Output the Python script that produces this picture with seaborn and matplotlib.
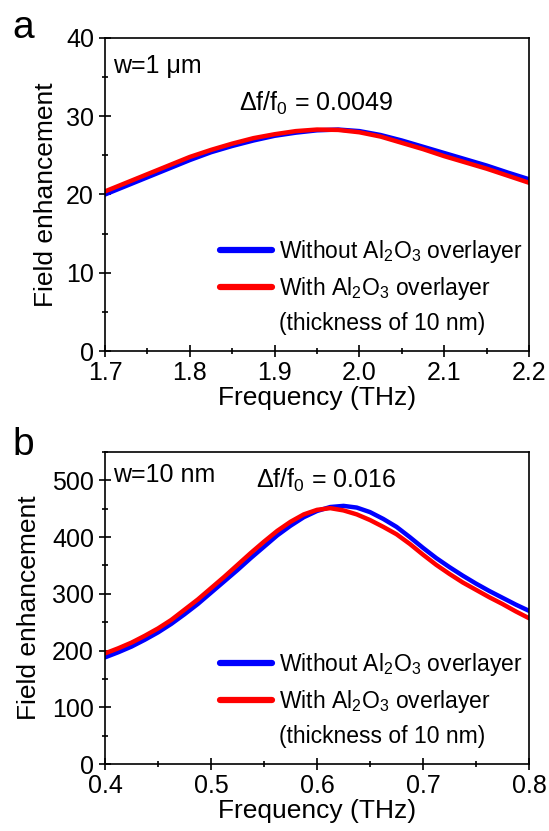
import pandas as pd
import seaborn as sns
import matplotlib.pyplot as plt
from matplotlib.lines import Line2D
from matplotlib.ticker import MultipleLocator

# 面板 a : w = 1 um
freq_a = [1.700, 1.725, 1.750, 1.775, 1.800, 1.825, 1.850, 1.875, 1.900, 1.925, 1.950,
          1.975, 2.000, 2.025, 2.050, 2.075, 2.100, 2.125, 2.150, 2.175, 2.200]
without_a = [20.0, 21.1, 22.2, 23.3, 24.4, 25.4, 26.2, 26.9, 27.5, 27.9, 28.2,
             28.3, 28.1, 27.6, 26.9, 26.1, 25.3, 24.5, 23.7, 22.8, 21.95]
with_a = [20.4, 21.5, 22.6, 23.7, 24.8, 25.7, 26.5, 27.2, 27.7, 28.1, 28.3,
          28.25, 27.95, 27.4, 26.6, 25.8, 24.9, 24.1, 23.3, 22.4, 21.5]

# 面板 b : w = 10 nm
freq_b = [0.4000, 0.4125, 0.4250, 0.4375, 0.4500, 0.4625, 0.4750, 0.4875, 0.5000,
          0.5125, 0.5250, 0.5375, 0.5500, 0.5625, 0.5750, 0.5875, 0.6000, 0.6125,
          0.6250, 0.6375, 0.6500, 0.6625, 0.6750, 0.6875, 0.7000, 0.7125, 0.7250,
          0.7375, 0.7500, 0.7625, 0.7750, 0.7875, 0.8000]
without_b = [188, 197, 207, 219, 232, 247, 264, 282, 302,
             322, 342, 363, 383, 403, 420, 435, 446, 453,
             455, 452, 444, 432, 418, 400, 381, 363, 347,
             332, 318, 305, 293, 281, 270]
with_b = [195, 204, 214, 226, 239, 254, 272, 290, 310,
          330, 351, 372, 392, 411, 427, 440, 448, 451,
          447, 440, 430, 418, 405, 388, 369, 351, 335,
          320, 307, 294, 282, 269, 257]

cases = ['Without Al$_2$O$_3$ overlayer', 'With Al$_2$O$_3$ overlayer']
note = '(thickness of 10 nm)'
colors = ['blue', 'red']

sns.set_style('ticks')
plt.rcParams['font.family'] = ['Liberation Sans', 'DejaVu Sans']
plt.rcParams['mathtext.fontset'] = 'custom'
plt.rcParams['mathtext.rm'] = 'Liberation Sans'
plt.rcParams['mathtext.it'] = 'Liberation Sans:italic'
for k in ['text.color', 'axes.labelcolor', 'xtick.color', 'ytick.color', 'axes.edgecolor']:
    plt.rcParams[k] = 'black'


def make_df(freq, without, with_):
    n = len(freq)
    return pd.DataFrame({
        'freq': list(freq) * 2,
        'fe': list(without) + list(with_),
        'case': [cases[0]] * n + [cases[1]] * n,
    })


fig = plt.figure(figsize=(5.49, 8.31), dpi=100)
ax_a = fig.add_axes([0.1913, 0.5776, 0.7723, 0.3767])
ax_b = fig.add_axes([0.1913, 0.0806, 0.7723, 0.3755])

panels = [
    (ax_a, make_df(freq_a, without_a, with_a), (1.7, 2.2), (0, 40), 10, 5,
     'w=1 \u03bcm', 'Δf/f$_0$ = 0.0049', (0.316, 0.767), 0.889, -0.112),
    (ax_b, make_df(freq_b, without_b, with_b), (0.4, 0.8), (0, 550), 100, 50,
     'w=10 nm', 'Δf/f$_0$ = 0.016', (0.356, 0.884), 0.903, -0.15),
]

for ax, df, xl, yl, ymaj, ymin, wtxt, dtxt, dpos, wy, ylx in panels:
    sns.lineplot(data=df, x='freq', y='fe', hue='case', palette=colors,
                 linewidth=3.2, ax=ax, legend=False)
    ax.set_xlim(*xl)
    ax.set_ylim(*yl)
    ax.xaxis.set_major_locator(MultipleLocator(0.1))
    ax.xaxis.set_minor_locator(MultipleLocator(0.05))
    ax.yaxis.set_major_locator(MultipleLocator(ymaj))
    ax.yaxis.set_minor_locator(MultipleLocator(ymin))
    ax.xaxis.set_major_formatter(plt.FormatStrFormatter('%.1f'))
    ax.tick_params(which='major', direction='inout', length=8, width=1.2,
                   labelsize=18, top=False, right=False)
    ax.tick_params(axis='x', pad=3)
    ax.tick_params(axis='y', pad=4)
    ax.tick_params(which='minor', direction='inout', length=5, width=1.2,
                   top=False, right=False)
    for s in ax.spines.values():
        s.set_linewidth(1.2)
        s.set_color('black')
    ax.set_xlabel('Frequency (THz)', fontsize=19, labelpad=1)
    ax.set_ylabel('Field enhancement', fontsize=19)
    ax.yaxis.set_label_coords(ylx, 0.5)
    ax.text(0.019, wy, wtxt, transform=ax.transAxes, fontsize=18, va='baseline')
    ax.text(dpos[0], dpos[1], dtxt, transform=ax.transAxes, fontsize=18, va='baseline')

    handles = [Line2D([], [], color=c, lw=4.5) for c in colors]
    handles.append(Line2D([], [], color='none'))
    ax.legend(handles, cases + [note], loc='lower left', bbox_to_anchor=(0.27, 0.05),
              frameon=False, fontsize=16.5, handlelength=2.3, handletextpad=0.3,
              labelspacing=0.45, borderpad=0, borderaxespad=0)

fig.text(0.022, 0.954, 'a', fontsize=28, va='baseline')
fig.text(0.022, 0.4525, 'b', fontsize=28, va='baseline')

plt.savefig('out.png', dpi=100)
plt.close()
